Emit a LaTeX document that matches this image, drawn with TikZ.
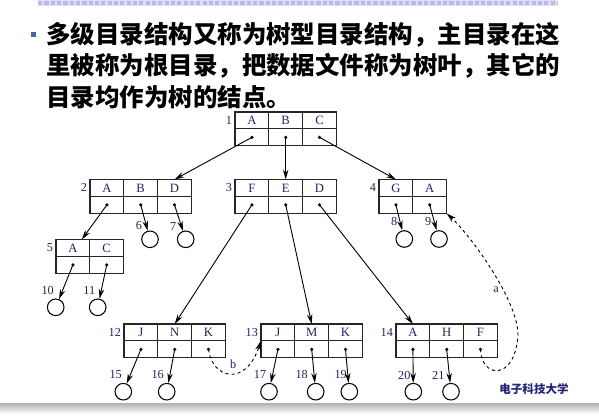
\documentclass[tikz,border=0pt]{standalone}
\usepackage{fontspec}
\setmainfont{Liberation Serif}
\newfontfamily\cjk{Noto Sans CJK SC}
\usepackage{tikz}
\usetikzlibrary{arrows.meta}
\definecolor{ink}{RGB}{28, 38, 96}
\definecolor{bullet}{RGB}{70, 100, 170}
\definecolor{band}{RGB}{185, 185, 235}
\definecolor{logo}{RGB}{36, 36, 120}

\begin{document}
\begin{tikzpicture}[x=0.025cm, y=-0.025cm,
  cell/.style={draw=black!85, line width=0.8pt, minimum width=0.845cm, minimum height=0.4225cm,
               inner sep=0pt, outer sep=0pt, text=ink, font=\fontsize{9}{10}\selectfont},
  idx/.style={text=ink, inner sep=2pt, font=\fontsize{8.7}{10}\selectfont},
  leaf/.style={draw=black, line width=0.75pt, circle, minimum size=0.415cm, inner sep=0pt},
  arr/.style={-{Stealth[length=7pt, width=3.9pt]}, line width=0.65pt},
  link/.style={arr, dash pattern=on 2.2pt off 2.2pt},
  para/.style={anchor=west, inner sep=0pt, font=\cjk\bfseries\fontsize{17.4}{20}\selectfont}]
  \useasboundingbox (0, 0) rectangle (599, 418);

  % slide frame
  \fill[band!45] (38, 0) rectangle (557, 6);
  \draw[band, line width=3pt, dash pattern=on 3pt off 1.5pt] (38, 3) -- (557, 3);
  \shade[top color=gray!55, bottom color=white] (0, 404) rectangle (599, 414);

  % text
  \fill[bullet] (31, 32.5) rectangle (35.7, 37.3);
  \node[para] (t1) at (46, 35) {多级目录结构又称为树型目录结构，主目录在这};
  \node[para] (t2) at (46, 66) {里被称为根目录，把数据文件称为树叶，其它的};
  \node[para] (t3) at (46, 97) {目录均作为树的结点。};

  % directories
  \foreach \id/\x/\y/\cells in {1/235/112/{A,B,C}, 2/90/179.5/{A,B,D}, 3/235/179.5/{F,E,D},
                                4/379/179.5/{G,A}, 5/56/239.5/{A,C}, 12/124/324/{J,N,K},
                                13/261/324/{J,M,K}, 14/396/324/{A,H,F}} {
    \foreach \t [count=\c] in \cells {
      \node[cell, anchor=north west] (r\id-\c) at ({\x + (\c - 1) * 33.8}, \y) {\t};
      \node[cell, anchor=north] (d\id-\c) at (r\id-\c.south) {};
      \fill (d\id-\c.center) circle (1.25pt);
    }
    \node[idx, anchor=east] (n\id) at (r\id-1.west) {\id};
  }

  % files
  \foreach \k/\x/\y/\lx/\ly in {6/150/239.3/139/226, 7/185.7/239.3/173.3/226,
                                8/404.3/239/394.3/221.7, 9/439/239/428.3/221.7,
                                10/55.7/307.3/47.7/290, 11/97.7/307.3/89.3/290,
                                15/123.3/391.7/115.7/374.3, 16/166.7/391.7/157.7/374.3,
                                17/269/391.7/260/374.3, 18/315.7/391.7/301.7/374.3,
                                19/349.3/391.7/340.7/374.3, 20/413.3/391.7/404.3/375,
                                21/451/391.7/438.3/375} {
    \node[leaf] (c\k) at (\x, \y) {};
    \node[idx] (l\k) at (\lx, \ly) {\k};
  }

  % pointers
  \draw[arr] (d1-1.center) -- (r2-3.north);
  \draw[arr] (d1-2.center) -- (r3-2.north);
  \draw[arr] (d1-3.center) -- (r4-1.north);
  \draw[arr] (d2-1.center) -- ([xshift=-0.2cm]r5-1.north east);
  \draw[arr] (d3-1.center) -- (r12-2.north);
  \draw[arr] (d3-2.center) -- (r13-2.north);
  \draw[arr] (d3-3.center) -- (r14-1.north);
  \foreach \a/\b in {d2-2/c6, d2-3/c7, d4-1/c8, d4-2/c9, d5-1/c10, d5-2/c11, d12-1/c15,
                     d12-2/c16, d13-1/c17, d13-2/c18, d13-3/c19, d14-1/c20, d14-2/c21} {
    \draw[arr] (\a.center) -- (\b);
  }

  % links
  \coordinate (abend) at (518, 335);
  \draw[link] (d12-3.center) .. controls (212, 378) and (245, 388) .. (r13-1.south west);
  \draw[link] (d14-3.center) .. controls (481, 378) and (515, 382) .. (abend)
              .. controls (518, 300) and (470, 235) .. (d4-2.south east);
  \node[idx] (lb) at (233.3, 364) {b};
  \node[idx] (la) at (496, 290) {a};

  \node[text=logo, font=\cjk\bfseries\fontsize{8.2}{10}\selectfont] (logo) at (534, 389) {电子科技大学};
\end{tikzpicture}
\end{document}
